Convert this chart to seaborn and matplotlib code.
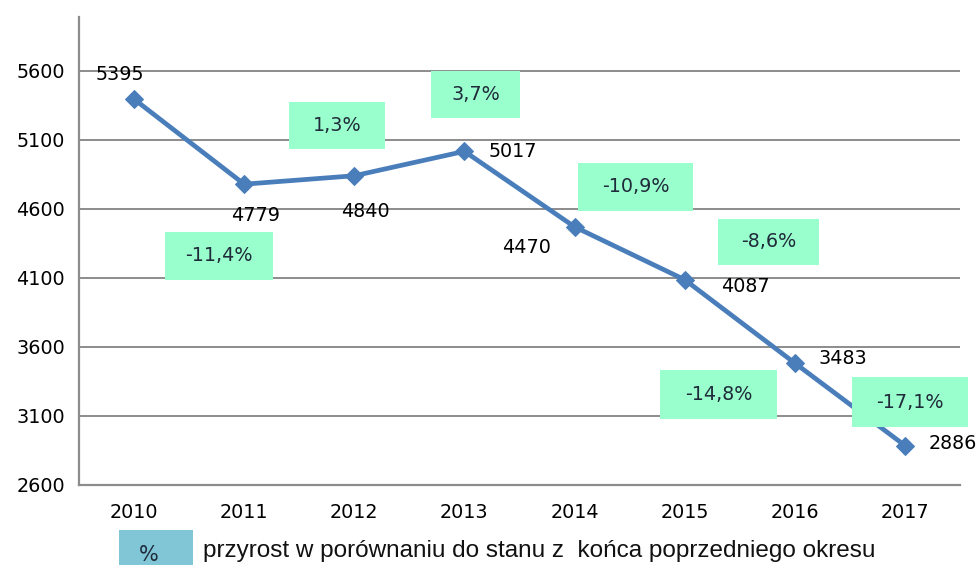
import pandas as pd
import seaborn as sns
import matplotlib.pyplot as plt
from matplotlib.patches import Rectangle

# Data
years = ['2010', '2011', '2012', '2013', '2014', '2015', '2016', '2017']
values = [5395, 4779, 4840, 5017, 4470, 4087, 3483, 2886]
pct_labels = ['-11,4%', '1,3%', '3,7%', '-10,9%', '-8,6%', '-14,8%', '-17,1%']
y_ticks = [2600, 3100, 3600, 4100, 4600, 5100, 5600]

df = pd.DataFrame({'year': years, 'value': values})

# layout helpers (positions of labels / boxes)
label_offsets = [(-14, 25), (11, -31), (11, -36), (48, 0), (-48, -21), (61, -7), (48, 5), (48, 2)]
box_centers = [(0.773, 4259), (1.845, 5201), (3.10, 5426), (4.555, 4759),
               (5.764, 4361), (5.309, 3259), (7.045, 3201)]
box_sizes_px = [(108, 48), (96, 47), (88, 47), (115, 48), (101, 46), (117, 49), (116, 50)]

sns.set_style('white')
plt.rcParams['font.family'] = ['DejaVu Sans']

fig = plt.figure(figsize=(9.79, 5.65), dpi=100)
ax = fig.add_axes([79 / 979, 80 / 565, 881 / 979, 468 / 565])

line_color = '#4A7EBB'
grid_color = '#8C8C8C'
fs = 13.8

sns.lineplot(data=df, x='year', y='value', ax=ax, color=line_color, linewidth=3.4,
             marker='D', markersize=9.5, markeredgecolor=line_color, sort=False, zorder=3)

ax.set_xlim(-0.5, 7.5)
ax.set_ylim(2600, 5990)
ax.set_yticks(y_ticks)
ax.set_yticklabels([str(t) for t in y_ticks], fontsize=fs, color='black')
ax.set_xticks(range(len(years)))
ax.set_xticklabels(years, fontsize=fs, color='black')
ax.tick_params(axis='both', length=0, pad=0)
ax.tick_params(axis='y', pad=10)
ax.tick_params(axis='x', pad=13)
ax.set_xlabel('')
ax.set_ylabel('')
ax.yaxis.grid(True, color=grid_color, linewidth=1.4)
ax.set_axisbelow(True)
for s in ['top', 'right']:
    ax.spines[s].set_visible(False)
for s in ['left', 'bottom']:
    ax.spines[s].set_color(grid_color)
    ax.spines[s].set_linewidth(1.6)

# data labels
for i, (v, off) in enumerate(zip(values, label_offsets)):
    ax.annotate(str(v), (i, v), xytext=off, textcoords='offset pixels',
                ha='center', va='center', fontsize=fs, color='black', zorder=5,
                annotation_clip=False)

# percentage boxes
px_x = 1 / 110.0
px_y = 500 / 69.0
for (cx, cy), (w, h), txt in zip(box_centers, box_sizes_px, pct_labels):
    dw, dh = w * px_x, h * px_y
    ax.add_patch(Rectangle((cx - dw / 2, cy - dh / 2), dw, dh, facecolor='#99FFCC',
                           edgecolor='none', zorder=4, clip_on=False))
    ax.text(cx, cy, txt, ha='center', va='center', fontsize=fs, color='#1F2A3A', zorder=5)

# legend at bottom
fig.patches.append(Rectangle((119 / 979, 0), 74 / 979, 35 / 565, transform=fig.transFigure,
                             facecolor='#80C6D6', edgecolor='none'))
fig.text(149 / 979, 10 / 565, '%', ha='center', va='center', fontsize=15, color='#1F2A3A')
fig.text(203 / 979, 14 / 565, 'przyrost w porównaniu do stanu z  końca poprzedniego okresu',
         ha='left', va='center', fontsize=17.5, family=['Liberation Sans', 'DejaVu Sans'],
         color='#111111')

fig.savefig('out.png', dpi=100)
